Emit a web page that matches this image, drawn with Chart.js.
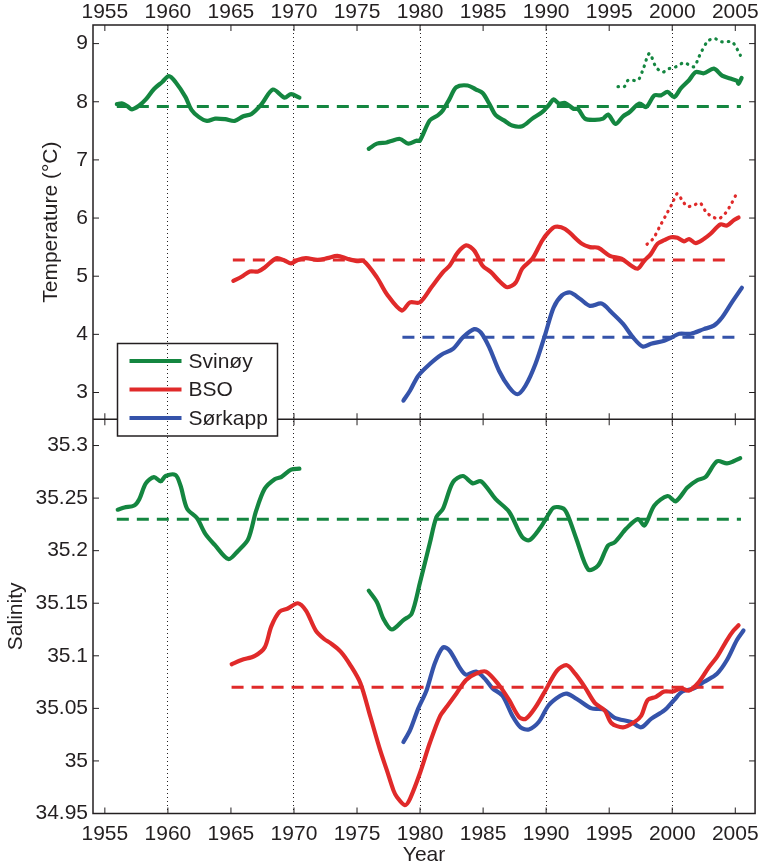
<!DOCTYPE html>
<html lang="en">
<head>
<meta charset="UTF-8">
<title>Svinøy, BSO and Sørkapp</title>
<style>
  body { margin: 0; background: #fff; }
  #wrap { width: 767px; height: 868px; }
</style>
</head>
<body>
<div id="wrap"><canvas id="tsChart"></canvas></div>
<script src="https://cdn.jsdelivr.net/npm/chart.js@4.4.0/dist/chart.umd.min.js"></script>
<script>
// axis ticks
const yearTicks = [1955, 1960, 1965, 1970, 1975, 1980, 1985, 1990, 1995, 2000, 2005];
const dottedYears = [1960, 1970, 1980, 1990, 2000];
const tempTicks = [3, 4, 5, 6, 7, 8, 9];
const salTicks = [34.95, 35, 35.05, 35.1, 35.15, 35.2, 35.25, 35.3];

// temperature (degC), [year, value]; null marks a break in the record
const svinoyT = [
  [1955.95, 7.96], [1956.4, 7.97], [1956.8, 7.92], [1957.15, 7.87], [1957.7, 7.93], [1958.25, 8.04],
  [1958.9, 8.22], [1959.55, 8.34], [1960.08, 8.44], [1960.6, 8.34], [1961.4, 8.08], [1961.87, 7.86],
  [1962.44, 7.74], [1963.1, 7.67], [1963.75, 7.71], [1964.54, 7.70], [1965.3, 7.67], [1965.98, 7.75],
  [1966.63, 7.79], [1967.4, 7.95], [1968.33, 8.21], [1969.25, 8.07], [1969.77, 8.13], [1970.43, 8.07],
  [1973, null],
  [1975.93, 7.19], [1976.58, 7.28], [1977.35, 7.30], [1977.63, 7.32], [1978.4, 7.36], [1979.07, 7.28],
  [1979.7, 7.33], [1979.98, 7.33], [1980.77, 7.68], [1981.43, 7.77], [1981.8, 7.85], [1982.34, 8.05],
  [1982.87, 8.25], [1983.78, 8.28], [1984.44, 8.21], [1984.96, 8.15], [1985.48, 7.97], [1986.0, 7.77],
  [1986.66, 7.68], [1987.3, 7.59], [1988.1, 7.58], [1988.9, 7.71], [1989.68, 7.82], [1990.2, 7.94],
  [1990.6, 8.04], [1991.0, 7.97], [1991.5, 7.98], [1992.16, 7.88], [1992.55, 7.87], [1993.08, 7.71],
  [1993.87, 7.69], [1994.52, 7.71], [1994.91, 7.78], [1995.5, 7.62], [1996.1, 7.75], [1996.6, 7.82],
  [1997.4, 7.97], [1997.93, 7.91], [1998.58, 8.11], [1999.1, 8.11], [1999.63, 8.17], [2000.15, 8.08],
  [2000.68, 8.23], [2001.33, 8.37], [2001.86, 8.51], [2002.5, 8.49], [2003.3, 8.57], [2003.95, 8.45],
  [2004.6, 8.40], [2005.13, 8.36], [2005.26, 8.31], [2005.5, 8.41]
];
const svinoyTDotted = [
  [1995.7, 8.26], [1996.2, 8.26], [1996.5, 8.37], [1997.27, 8.37], [1997.66, 8.54], [1998.19, 8.83],
  [1998.7, 8.60], [1999.23, 8.51], [1999.76, 8.57], [2000.28, 8.60], [2000.94, 8.67], [2001.72, 8.60],
  [2002.11, 8.77], [2002.77, 9.03], [2003.3, 9.09], [2003.95, 9.03], [2004.73, 9.03], [2005.13, 8.91],
  [2005.4, 8.80]
];
const bsoT = [
  [1965.19, 4.92], [1965.84, 4.99], [1966.5, 5.08], [1967.15, 5.08], [1967.68, 5.15], [1968.6, 5.31],
  [1969.25, 5.27], [1969.77, 5.22], [1970.3, 5.28], [1970.95, 5.31], [1971.87, 5.28], [1972.65, 5.31],
  [1973.44, 5.35], [1974.22, 5.30], [1975.0, 5.26], [1975.54, 5.26], [1976.58, 4.98], [1977.37, 4.69],
  [1978.55, 4.41], [1979.2, 4.55], [1979.98, 4.55], [1980.9, 4.81], [1981.82, 5.07], [1982.34, 5.18],
  [1983.0, 5.41], [1983.65, 5.53], [1984.3, 5.44], [1984.96, 5.18], [1985.62, 5.07], [1986.27, 4.92],
  [1986.93, 4.81], [1987.58, 4.89], [1988.1, 5.13], [1988.9, 5.30], [1989.68, 5.61], [1990.2, 5.76],
  [1990.73, 5.85], [1991.5, 5.81], [1992.82, 5.56], [1993.47, 5.50], [1994.13, 5.49], [1995.05, 5.35],
  [1995.97, 5.30], [1996.75, 5.18], [1997.27, 5.13], [1997.8, 5.27], [1998.3, 5.38], [1998.84, 5.56],
  [1999.37, 5.62], [1999.9, 5.67], [2000.41, 5.66], [2000.94, 5.60], [2001.33, 5.64], [2001.86, 5.57],
  [2002.5, 5.64], [2003.04, 5.73], [2003.82, 5.89], [2004.34, 5.87], [2004.86, 5.96], [2005.26, 6.01]
];
const bsoTDotted = [
  [1998.0, 5.55], [1998.5, 5.65], [1999.0, 5.85], [1999.5, 6.05], [2000.0, 6.25], [2000.4, 6.42],
  [2000.8, 6.30], [2001.2, 6.20], [2001.7, 6.22], [2002.2, 6.26], [2002.7, 6.10], [2003.2, 6.02],
  [2003.7, 5.99], [2004.2, 6.08], [2004.7, 6.25], [2005.1, 6.42]
];
const sorkappT = [
  [1978.68, 2.86], [1979.2, 3.03], [1979.86, 3.29], [1980.77, 3.49], [1981.69, 3.65], [1982.61, 3.75],
  [1983.4, 3.95], [1984.3, 4.09], [1984.83, 4.03], [1985.48, 3.78], [1986.27, 3.37], [1987.06, 3.09],
  [1987.72, 2.97], [1988.37, 3.12], [1989.15, 3.49], [1989.94, 4.01], [1990.59, 4.46], [1991.25, 4.67],
  [1991.9, 4.72], [1992.69, 4.61], [1993.47, 4.49], [1994.39, 4.53], [1995.18, 4.38], [1996.1, 4.18],
  [1996.88, 3.95], [1997.66, 3.79], [1998.32, 3.84], [1999.37, 3.89], [1999.9, 3.94], [2000.55, 4.01],
  [2001.47, 4.01], [2002.5, 4.09], [2003.3, 4.15], [2003.95, 4.29], [2004.73, 4.55], [2005.52, 4.80]
];
const svinoyTMean = [[1955.95, 7.92], [2005.45, 7.92]];
const bsoTMean = [[1965.15, 5.28], [2004.5, 5.28]];
const sorkappTMean = [[1978.6, 3.95], [2005.5, 3.95]];

// salinity
const svinoyS = [
  [1956.02, 35.239], [1956.55, 35.241], [1957.33, 35.243], [1957.73, 35.249], [1958.25, 35.264],
  [1958.9, 35.270], [1959.43, 35.266], [1959.82, 35.271], [1960.6, 35.272], [1961.0, 35.262],
  [1961.52, 35.240], [1962.3, 35.231], [1962.97, 35.216], [1963.75, 35.205], [1964.8, 35.192],
  [1965.58, 35.200], [1966.37, 35.211], [1967.0, 35.238], [1967.68, 35.259], [1968.47, 35.268],
  [1968.98, 35.270], [1969.77, 35.277], [1970.43, 35.278],
  [1973, null],
  [1975.93, 35.162], [1976.58, 35.151], [1977.1, 35.135], [1977.76, 35.125], [1978.68, 35.134],
  [1979.33, 35.140], [1979.98, 35.169], [1980.77, 35.207], [1981.3, 35.232], [1981.82, 35.240],
  [1982.6, 35.265], [1983.4, 35.271], [1984.18, 35.264], [1984.83, 35.266], [1986.0, 35.249],
  [1987.06, 35.237], [1988.1, 35.213], [1988.68, 35.210], [1989.55, 35.222], [1990.07, 35.232],
  [1990.6, 35.241], [1991.38, 35.240], [1991.77, 35.232], [1992.43, 35.210], [1993.34, 35.182],
  [1994.13, 35.186], [1994.91, 35.205], [1995.44, 35.208], [1996.36, 35.221], [1997.27, 35.230],
  [1997.8, 35.224], [1998.58, 35.243], [1999.63, 35.252], [2000.28, 35.247], [2001.2, 35.260],
  [2001.98, 35.267], [2002.64, 35.270], [2003.55, 35.285], [2004.34, 35.283], [2004.86, 35.285],
  [2005.39, 35.288]
];
const bsoS = [
  [1965.06, 35.092], [1965.84, 35.096], [1966.9, 35.100], [1967.68, 35.108], [1968.2, 35.128],
  [1968.86, 35.142], [1969.51, 35.145], [1970.3, 35.150], [1970.95, 35.143], [1971.73, 35.124],
  [1972.39, 35.116], [1972.9, 35.112], [1973.7, 35.104], [1974.48, 35.091], [1975.27, 35.074],
  [1976.06, 35.042], [1976.84, 35.010], [1977.37, 34.991], [1977.89, 34.972], [1978.15, 34.966],
  [1978.8, 34.958], [1979.2, 34.964], [1979.98, 34.988], [1980.77, 35.017], [1981.56, 35.042],
  [1982.08, 35.051], [1982.87, 35.064], [1983.65, 35.077], [1984.44, 35.083], [1985.22, 35.085],
  [1986.27, 35.072], [1987.06, 35.058], [1987.84, 35.042], [1988.37, 35.040], [1989.15, 35.051],
  [1989.94, 35.067], [1990.86, 35.086], [1991.64, 35.091], [1992.3, 35.083], [1993.08, 35.070],
  [1993.87, 35.055], [1994.65, 35.048], [1995.18, 35.036], [1996.1, 35.032], [1997.0, 35.037],
  [1997.54, 35.043], [1998.05, 35.058], [1998.71, 35.061], [1999.37, 35.066], [2000.02, 35.066],
  [2000.68, 35.069], [2001.33, 35.067], [2002.11, 35.075], [2002.9, 35.089], [2003.55, 35.099],
  [2004.34, 35.115], [2004.86, 35.124], [2005.26, 35.129]
];
const sorkappS = [
  [1978.68, 35.018], [1979.2, 35.029], [1979.86, 35.050], [1980.51, 35.067], [1981.17, 35.093],
  [1981.82, 35.108], [1982.34, 35.105], [1983.13, 35.089], [1983.65, 35.082], [1984.44, 35.085],
  [1985.22, 35.077], [1985.75, 35.069], [1986.54, 35.062], [1987.32, 35.043], [1987.97, 35.032],
  [1988.63, 35.030], [1989.41, 35.037], [1990.2, 35.053], [1991.12, 35.062], [1991.64, 35.064],
  [1992.55, 35.058], [1993.6, 35.050], [1994.52, 35.049], [1995.44, 35.041], [1996.75, 35.037],
  [1997.54, 35.032], [1998.32, 35.040], [1999.37, 35.048], [2000.15, 35.058], [2000.8, 35.066],
  [2001.72, 35.069], [2002.5, 35.075], [2003.55, 35.083], [2004.34, 35.096], [2005.13, 35.115],
  [2005.65, 35.124]
];
const svinoySMean = [[1955.95, 35.23], [2005.45, 35.23]];
const bsoSMean = [[1965.05, 35.07], [2004.5, 35.07]];

const GREEN = '#148640';
const RED = '#e02a2a';
const BLUE = '#3553aa';
const INK = '#231f20';
const FONT = { family: '"Liberation Sans", Arial, Helvetica, sans-serif', size: 21 };
const TICK = 6;

const legendItems = [['Svinøy', GREEN], ['BSO', RED], ['Sørkapp', BLUE]];

function series(data, color, axis, style) {
  const ds = {
    data: data.map(([x, y]) => ({ x, y })),
    yAxisID: axis,
    borderColor: color,
    backgroundColor: color,
    borderWidth: 4.2,
    pointRadius: 0,
    tension: 0.3,
    spanGaps: false,
    borderJoinStyle: 'round',
    borderCapStyle: 'round'
  };
  if (style === 'dash') {
    Object.assign(ds, { borderWidth: 3, borderDash: [12, 8], tension: 0, borderCapStyle: 'butt' });
  } else if (style === 'dot') {
    Object.assign(ds, { borderWidth: 3.2, borderDash: [0.5, 6] });
  }
  return ds;
}

// box, inward tick marks and legend background go under the dotted grid
const framePlugin = {
  id: 'frame',
  beforeDraw(chart) {
    const { ctx, chartArea: a, scales } = chart;
    const split = scales.yT.bottom;
    ctx.save();
    ctx.strokeStyle = INK;
    ctx.lineWidth = 1.5;
    ctx.strokeRect(a.left, a.top, a.right - a.left, a.bottom - a.top);
    ctx.beginPath();
    ctx.moveTo(a.left, split);
    ctx.lineTo(a.right, split);
    ctx.stroke();

    ctx.lineWidth = 1;
    ctx.beginPath();
    for (const yr of yearTicks) {
      const px = scales.x.getPixelForValue(yr);
      for (const [y0, dir] of [[a.top, 1], [split, -1], [split, 1], [a.bottom, -1]]) {
        ctx.moveTo(px, y0);
        ctx.lineTo(px, y0 + dir * TICK);
      }
    }
    for (const [id, vals] of [['yT', tempTicks], ['yS', salTicks]]) {
      for (const v of vals) {
        const py = scales[id].getPixelForValue(v);
        ctx.moveTo(a.left, py);
        ctx.lineTo(a.left + TICK, py);
        ctx.moveTo(a.right, py);
        ctx.lineTo(a.right - TICK, py);
      }
    }
    ctx.stroke();

    const lg = chart.options.plugins.frame;
    ctx.fillStyle = '#fff';
    ctx.fillRect(lg.x, lg.y, lg.w, lg.h);
    ctx.lineWidth = 1.5;
    ctx.strokeRect(lg.x, lg.y, lg.w, lg.h);
    ctx.restore();
  },
  afterDraw(chart) {
    const { ctx } = chart;
    const lg = chart.options.plugins.frame;
    ctx.save();
    ctx.font = `${FONT.size}px ${FONT.family}`;
    ctx.textBaseline = 'middle';
    ctx.fillStyle = INK;
    legendItems.forEach(([label, color], i) => {
      const y = lg.y + lg.firstRow + i * lg.rowGap;
      ctx.strokeStyle = color;
      ctx.lineWidth = 4;
      ctx.beginPath();
      ctx.moveTo(lg.x + 12, y);
      ctx.lineTo(lg.x + 64, y);
      ctx.stroke();
      ctx.fillText(label, lg.x + 71, y + 1);
    });
    ctx.restore();
  }
};

const xRange = { min: 1954.06, max: 2006.57 };
const setYears = s => { s.ticks = yearTicks.map(v => ({ value: v })); };
const tickText = v => String(+Number(v).toFixed(2));

new Chart(document.getElementById('tsChart'), {
  type: 'line',
  data: {
    datasets: [
      series(svinoyTMean, GREEN, 'yT', 'dash'),
      series(bsoTMean, RED, 'yT', 'dash'),
      series(sorkappTMean, BLUE, 'yT', 'dash'),
      series(svinoyTDotted, GREEN, 'yT', 'dot'),
      series(bsoTDotted, RED, 'yT', 'dot'),
      series(svinoyT, GREEN, 'yT'),
      series(bsoT, RED, 'yT'),
      series(sorkappT, BLUE, 'yT'),
      series(svinoySMean, GREEN, 'yS', 'dash'),
      series(bsoSMean, RED, 'yS', 'dash'),
      series(svinoyS, GREEN, 'yS'),
      series(bsoS, RED, 'yS'),
      series(sorkappS, BLUE, 'yS')
    ]
  },
  options: {
    responsive: true,
    maintainAspectRatio: false,
    animation: false,
    layout: { padding: { left: 0, right: 5, top: 0, bottom: 0 } },
    plugins: {
      legend: { display: false },
      tooltip: { enabled: false },
      frame: { x: 117.5, y: 343.5, w: 160, h: 92.5, firstRow: 17.5, rowGap: 28.5 }
    },
    scales: {
      x: {
        type: 'linear', position: 'bottom', ...xRange,
        afterBuildTicks: setYears,
        afterFit: s => { s.height = 54.5; },
        ticks: { font: FONT, color: INK, padding: 8, maxRotation: 0, autoSkip: false, callback: v => String(v) },
        grid: {
          drawTicks: false, lineWidth: 1,
          color: c => dottedYears.includes(c.tick && c.tick.value) ? INK : 'rgba(0,0,0,0)'
        },
        border: { display: false, dash: [1, 3] },
        title: { display: true, text: 'Year', font: FONT, color: INK, padding: { top: 0, bottom: 0 } }
      },
      xTop: {
        type: 'linear', position: 'top', ...xRange,
        afterBuildTicks: setYears,
        afterFit: s => { s.height = 25; },
        ticks: { font: FONT, color: INK, padding: 0, maxRotation: 0, autoSkip: false, callback: v => String(v) },
        grid: { display: false, drawTicks: false },
        border: { display: false }
      },
      yS: {
        type: 'linear', position: 'left', stack: 'panels', stackWeight: 1,
        min: 34.95, max: 35.325,
        afterBuildTicks: s => { s.ticks = salTicks.map(v => ({ value: v })); },
        afterFit: s => { s.width = 93; },
        ticks: { font: FONT, color: INK, padding: 5, callback: tickText },
        grid: { display: false, drawTicks: false },
        border: { display: false },
        title: { display: true, text: 'Salinity', font: FONT, color: INK, padding: { top: 4, bottom: 0 } }
      },
      yT: {
        type: 'linear', position: 'left', stack: 'panels', stackWeight: 1,
        min: 2.54, max: 9.32,
        afterBuildTicks: s => { s.ticks = tempTicks.map(v => ({ value: v })); },
        afterFit: s => { s.width = 93; },
        ticks: { font: FONT, color: INK, padding: 5, callback: tickText },
        grid: { display: false, drawTicks: false },
        border: { display: false },
        title: { display: true, text: 'Temperature (°C)', font: FONT, color: INK, padding: { top: 39, bottom: 0 } }
      }
    }
  },
  plugins: [framePlugin]
});
</script>
</body>
</html>
